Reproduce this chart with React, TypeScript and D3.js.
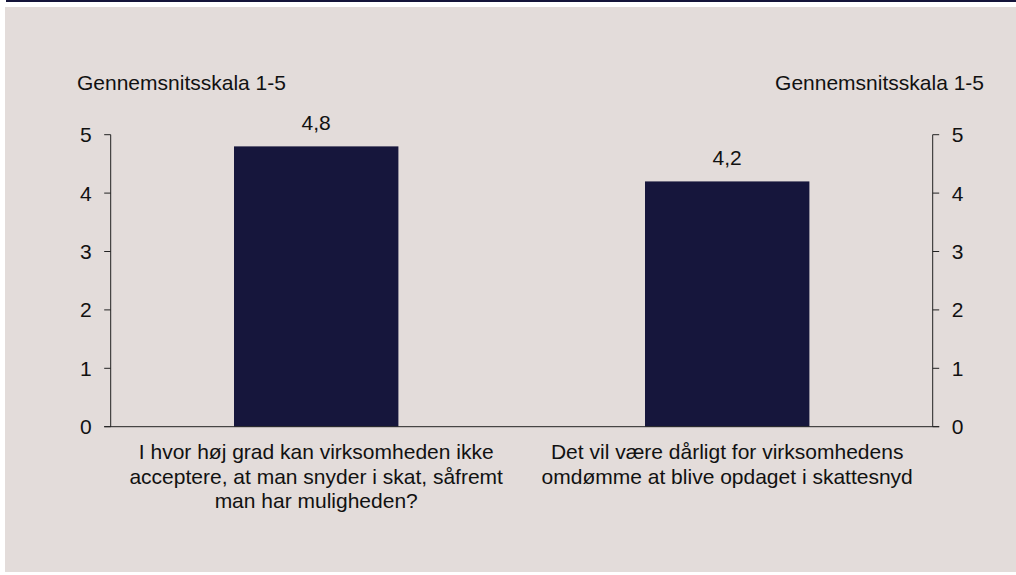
import { useEffect, useRef } from "react";
import * as d3 from "d3";

// Category labels, one array of lines per bar
const CATEGORIES = [
  [
    "I hvor høj grad kan virksomheden ikke",
    "acceptere, at man snyder i skat, såfremt",
    "man har muligheden?",
  ],
  ["Det vil være dårligt for virksomhedens", "omdømme at blive opdaget i skattesnyd"],
];
const VALUES = [4.8, 4.2];
const VALUE_LABELS = ["4,8", "4,2"];
const Y_TICKS = [0, 1, 2, 3, 4, 5];
const AXIS_TITLE = "Gennemsnitsskala 1-5";

const WIDTH = 1016;
const HEIGHT = 575;
const BG = "#e3dcda";
const BAR = "#16163c";
const FONT = "'Liberation Sans', Arial, sans-serif";
const FONT_SIZE = 21;
const PLOT = { left: 110.7, right: 932.7, top: 134.7, bottom: 426.7 };

export default function App() {
  const svgRef = useRef<SVGSVGElement | null>(null);

  useEffect(() => {
    if (!svgRef.current) return;
    const svg = d3.select(svgRef.current);
    svg.selectAll("*").remove();

    // Panel background and top rule
    svg.append("rect").attr("x", 5).attr("y", 7).attr("width", WIDTH - 5).attr("height", 565).attr("fill", BG);
    svg.append("rect").attr("x", 6).attr("y", 0).attr("width", WIDTH - 6).attr("height", 2).attr("fill", "#14143a");

    const x = d3
      .scaleBand<number>()
      .domain(VALUES.map((_, i) => i))
      .range([PLOT.left, PLOT.right])
      .padding(0);
    const y = d3.scaleLinear().domain([0, 5]).range([PLOT.bottom, PLOT.top]);
    const barW = x.bandwidth() * 0.4;

    // Bars
    svg
      .append("g")
      .selectAll("rect")
      .data(VALUES)
      .join("rect")
      .attr("x", (_, i) => (x(i) as number) + x.bandwidth() / 2 - barW / 2)
      .attr("y", (d) => y(d))
      .attr("width", barW)
      .attr("height", (d) => y(0) - y(d))
      .attr("fill", BAR);

    // Value labels
    svg
      .append("g")
      .selectAll("text")
      .data(VALUES)
      .join("text")
      .attr("x", (_, i) => (x(i) as number) + x.bandwidth() / 2)
      .attr("y", (d) => y(d) - 16)
      .attr("text-anchor", "middle")
      .text((_, i) => VALUE_LABELS[i]);

    // Left and right axes
    const axisColor = "#222";
    [PLOT.left, PLOT.right].forEach((ax, side) => {
      const dir = side === 0 ? -1 : 1;
      const g = svg.append("g");
      g.append("line")
        .attr("x1", ax)
        .attr("x2", ax)
        .attr("y1", y(5))
        .attr("y2", y(0))
        .attr("stroke", axisColor);
      g.selectAll("line.tick")
        .data(Y_TICKS)
        .join("line")
        .attr("class", "tick")
        .attr("x1", ax)
        .attr("x2", ax + dir * 6.5)
        .attr("y1", (d) => y(d))
        .attr("y2", (d) => y(d))
        .attr("stroke", axisColor);
      g.selectAll("text")
        .data(Y_TICKS)
        .join("text")
        .attr("x", ax + dir * 19)
        .attr("y", (d) => y(d) + 7.5)
        .attr("text-anchor", side === 0 ? "end" : "start")
        .text((d) => d);
    });

    // Baseline
    svg
      .append("line")
      .attr("x1", PLOT.left - 6.5)
      .attr("x2", PLOT.right + 6.5)
      .attr("y1", y(0))
      .attr("y2", y(0))
      .attr("stroke", axisColor);

    // Axis titles
    svg.append("text").attr("x", 77).attr("y", 90).text(AXIS_TITLE);
    svg.append("text").attr("x", 984).attr("y", 90).attr("text-anchor", "end").text(AXIS_TITLE);

    // Category labels
    CATEGORIES.forEach((lines, i) => {
      const t = svg
        .append("text")
        .attr("x", (x(i) as number) + x.bandwidth() / 2)
        .attr("y", y(0) + 32.5)
        .attr("text-anchor", "middle");
      lines.forEach((line, j) => {
        t.append("tspan")
          .attr("x", (x(i) as number) + x.bandwidth() / 2)
          .attr("dy", j === 0 ? 0 : 24.3)
          .text(line);
      });
    });

    svg.selectAll("text").attr("font-family", FONT).attr("font-size", FONT_SIZE).attr("fill", "#111");
  }, []);

  return (
    <svg
      ref={svgRef}
      width={WIDTH}
      height={HEIGHT}
      style={{ position: "absolute", left: 0, top: 0, background: "#fff" }}
    />
  );
}
